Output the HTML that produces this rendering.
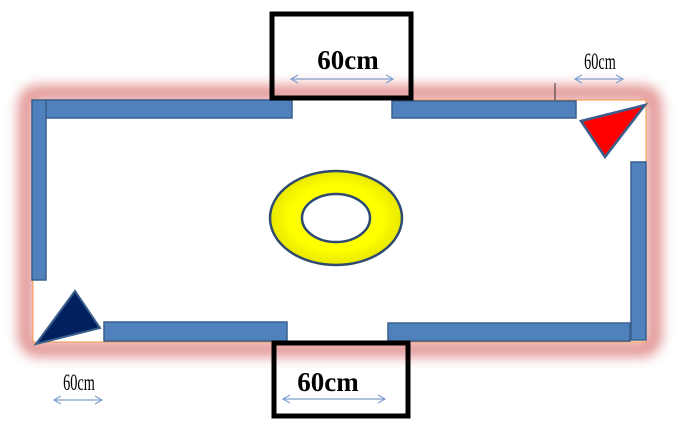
<!DOCTYPE html>
<html><head><style>
body{margin:0;background:#fff;width:680px;height:425px;overflow:hidden}
</style></head><body>
<svg width="680" height="425" xmlns="http://www.w3.org/2000/svg">
<defs>
<filter id="g" x="-10%" y="-20%" width="120%" height="140%"><feGaussianBlur stdDeviation="6"/></filter>
<marker id="a" markerWidth="10" markerHeight="10" refX="8" refY="5" orient="auto-start-reverse" markerUnits="userSpaceOnUse"><path d="M1,1 L8,5 L1,9" fill="none" stroke="#7f9fcf" stroke-width="1.2"/></marker>
<radialGradient id="y" cx="50%" cy="50%" r="50%"><stop offset="70%" stop-color="#ffff00"/><stop offset="100%" stop-color="#e8e800"/></radialGradient>
</defs>
<rect x="26" y="93" width="628" height="256" rx="12" fill="none" stroke="#e08a8a" stroke-width="16" filter="url(#g)" opacity="0.9"/>
<rect x="33" y="100" width="613" height="242" fill="#fff" stroke="#f79646" stroke-width="1"/>
<g fill="#4f81bd" stroke="#3a5f8c" stroke-width="1.5">
<rect x="46" y="100" width="246" height="18"/>
<rect x="32" y="100" width="14" height="180"/>
<rect x="392" y="101" width="184" height="17"/>
<rect x="631" y="162" width="15" height="178"/>
<rect x="104" y="322" width="183" height="19"/>
<rect x="388" y="323" width="242" height="18"/>
</g>
<line x1="555" y1="83" x2="555" y2="100" stroke="#333" stroke-width="1"/>
<polygon points="581,121 645,105 605,157" fill="#ff0000" stroke="#3a5f8c" stroke-width="2.5"/>
<polygon points="36,344 75,291 100,328" fill="#002060" stroke="#3a5f8c" stroke-width="2"/>
<path fill-rule="evenodd" d="M270,218 a66,47 0 1,0 132,0 a66,47 0 1,0 -132,0 Z M302,218 a34,24 0 1,0 68,0 a34,24 0 1,0 -68,0 Z" fill="url(#y)" stroke="#2e4a70" stroke-width="2.5"/>
<rect x="272" y="14" width="139" height="84" fill="none" stroke="#000" stroke-width="5"/>
<rect x="274" y="343" width="134" height="73" fill="none" stroke="#000" stroke-width="5"/>
<g font-family="Liberation Serif, serif" font-weight="bold" fill="#000">
<text x="348" y="69" font-size="27" text-anchor="middle">60cm</text>
<text x="328" y="391" font-size="27" text-anchor="middle">60cm</text>
</g>
<g font-family="Liberation Serif, serif" fill="#000" font-size="23">
<text x="600" y="69" text-anchor="middle" transform="translate(600,0) scale(0.62,1) translate(-600,0)">60cm</text>
<text x="79" y="390" text-anchor="middle" transform="translate(79,0) scale(0.62,1) translate(-79,0)">60cm</text>
</g>
<g stroke="#7f9fcf" stroke-width="1.2" marker-start="url(#a)" marker-end="url(#a)">
<line x1="291" y1="79" x2="393" y2="79"/>
<line x1="575" y1="79" x2="623" y2="79"/>
<line x1="54" y1="400" x2="102" y2="400"/>
<line x1="283" y1="399" x2="385" y2="399"/>
</g>
</svg>
</body></html>
